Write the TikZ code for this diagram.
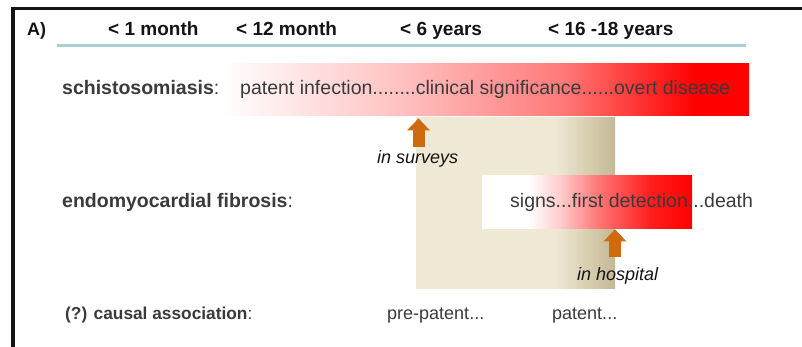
\documentclass[tikz,border=0pt]{standalone}
\usepackage{fontspec}
\setmainfont{Liberation Sans}
\usepackage{xcolor}
\usepackage{tikz}
\usetikzlibrary{arrows.meta,positioning}
\definecolor{ink}{HTML}{3A3A3A}
\definecolor{coal}{HTML}{141414}
\definecolor{rule}{HTML}{A9CFD5}
\definecolor{rust}{HTML}{CF6A0E}
\definecolor{sand}{HTML}{EEE8D4}
\definecolor{khaki}{HTML}{C4B893}
\pgfdeclarehorizontalshading{schistofade}{100bp}{color(0bp)=(white); color(26bp)=(white); color(42.5bp)=(red!24!white); color(57.5bp)=(red!52!white); color(70bp)=(red); color(100bp)=(red)}
\pgfdeclarehorizontalshading{emffade}{100bp}{color(0bp)=(white); color(36bp)=(white); color(43.5bp)=(red!20!white); color(53bp)=(red!55!white); color(65bp)=(red!88!white); color(75bp)=(red); color(100bp)=(red)}
\pgfdeclarehorizontalshading{sandfade}{100bp}{color(0bp)=(sand); color(60bp)=(sand); color(75bp)=(khaki); color(100bp)=(khaki)}
\tikzset{
  hdr/.style={anchor=base west,inner sep=0pt,font=\fontsize{19}{22}\selectfont\bfseries,text=coal},
  lbl/.style={anchor=base west,inner sep=0pt,font=\fontsize{19.5}{23}\selectfont,text=ink},
  note/.style={anchor=base west,inner sep=0pt,font=\fontsize{18}{21}\selectfont\itshape,text=coal},
  bar/.style={anchor=north west,inner sep=0pt,rectangle,shade},
  uparrow/.style={-{Triangle[width=23pt,length=12pt,line width=0pt]},line width=12pt,color=rust},
}

\begin{document}
\begin{tikzpicture}[x=1pt,y=-1pt]
    \useasboundingbox (0,0) rectangle (802,346);
    \draw[line width=3.5pt,coal] (13,360) -- (13,8.5) -- (820,8.5);
    % age scale
    \node[hdr,font=\fontsize{18}{22}\selectfont\bfseries] (panel) at (27,35.5) {A)};
    \node[hdr] (m1) at (108,35.5) {< 1 month};
    \node[hdr] (m12) at (236,35.5) {< 12 month};
    \node[hdr] (y6) at (400,35.5) {< 6 years};
    \node[hdr] (y16) at (548,35.5) {< 16 -18 years};
    \draw[rule,line width=3pt] (57,45) -- (746,45);
    % shaded bands
    \node[bar,shading=sandfade,minimum width=199pt,minimum height=171pt] (causal) at (416,117) {};
    \node[bar,shading=schistofade,minimum width=539pt,minimum height=52pt] (schbar) at (210,63) {};
    \node[bar,shading=emffade,minimum width=210pt,minimum height=53pt] (emfbar) at (482,175) {};
    % rows
    \node[lbl] (schisto) at (62,94) {\textbf{schistosomiasis}:};
    \node[lbl] (schcourse) at (240,94) {patent infection........clinical significance......overt disease};
    \node[lbl] (emf) at (62,207) {\textbf{endomyocardial fibrosis}:};
    \node[lbl] (emfcourse) at (510,207) {signs...first detection...death};
    \node[note] (surveys) at (377,163) {in surveys};
    \node[note] (hospital) at (577,280) {in hospital};
    \node[lbl,font=\fontsize{17.3}{20}\selectfont] (assoc) at (65,319) {\textbf{(?) causal association}:};
    \node[lbl,font=\fontsize{18}{21}\selectfont] (prepat) at (387,319) {pre-patent...};
    \node[lbl,font=\fontsize{18}{21}\selectfont] (pat) at (552,319) {patent...};
    % detection arrows
    \coordinate (surveybase) at (418.5,147);
    \coordinate (hospbase) at (615,257);
    \draw[uparrow,shorten >=3pt] (surveybase) -- (surveybase |- schbar.south);
    \draw[uparrow,shorten >=1pt] (hospbase) -- (hospbase |- emfbar.south);
\end{tikzpicture}
\end{document}
